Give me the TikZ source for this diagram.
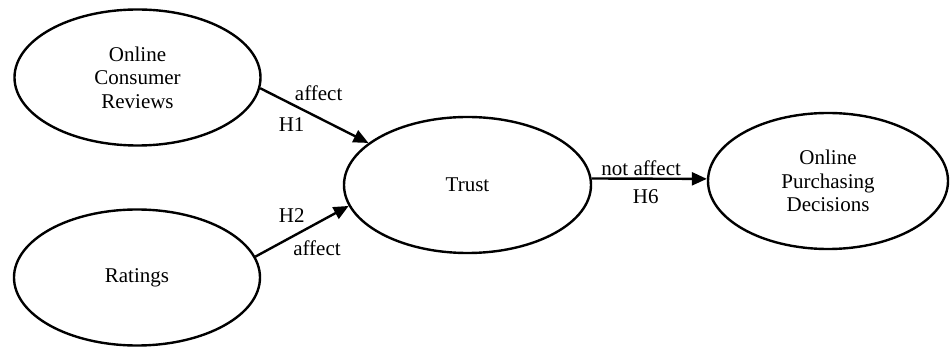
\documentclass[tikz,border=0pt]{standalone}
\usepackage{fontspec}
\setmainfont{Liberation Serif}
\usetikzlibrary{arrows.meta,shapes.geometric}

\begin{document}
\begin{tikzpicture}[x=1pt,y=-1pt,->,>={Triangle[length=15pt,width=13pt]},line width=2.4pt,
                    font=\fontsize{21}{23.4}\selectfont,
                    var/.style={ellipse,draw,align=center,inner sep=0pt,
                                minimum width=246pt,minimum height=136pt},
                    lbl/.style={inner sep=0pt}]
	\useasboundingbox (0,0) rectangle (950,347);
	\node[var]						(ocr)	at (137.5,77.5)		{Online\\Consumer\\Reviews};
	\node[var]						(rat)	at (137,277.5)		{Ratings};
	\node[var,minimum width=247pt]	(trust)	at (467.5,185)		{Trust};
	\node[var,minimum width=240pt]	(opd)	at (828,181)		{Online\\Purchasing\\Decisions};
	\path[->]	(ocr.-5)	edge	node[lbl,pos=0.54,yshift=25pt]		{affect}
							node[lbl,pos=0.29,yshift=-20.6pt]	{H1}		(trust.157)
			(rat.10)	edge	node[lbl,pos=0.39,yshift=21.7pt]	{H2}
							node[lbl,pos=0.66,yshift=-24.7pt]	{affect}	(trust.190)
			(trust.3)	edge	node[lbl,pos=0.43,yshift=10.5pt]	{not affect}
							node[lbl,pos=0.47,yshift=-17.5pt]	{H6}		(opd.179);
\end{tikzpicture}
\end{document}
